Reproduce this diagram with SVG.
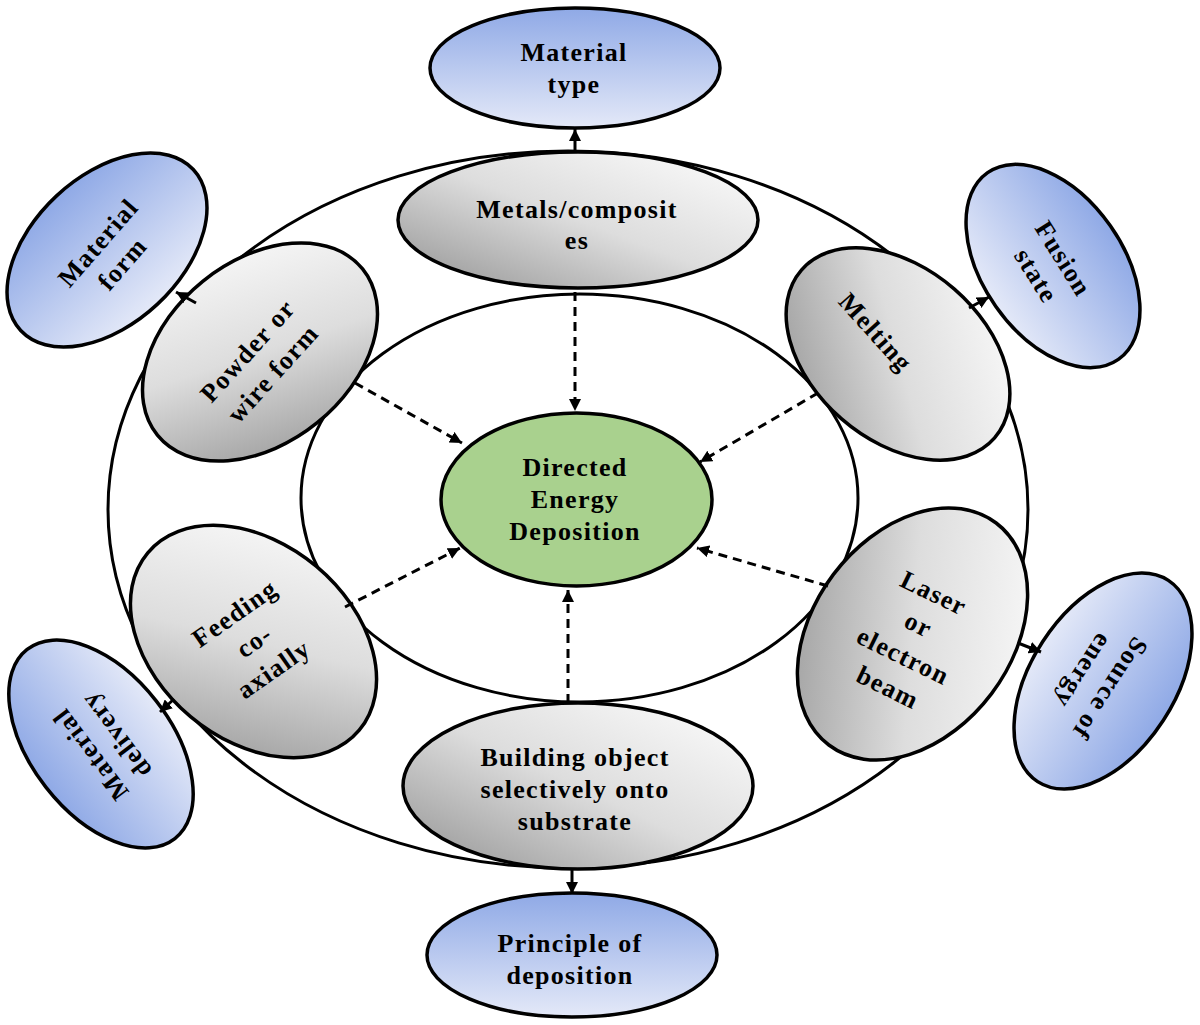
<svg xmlns="http://www.w3.org/2000/svg" width="1200" height="1025" viewBox="0 0 1200 1025">
  <style>
    .ring { fill: none; stroke: #000; stroke-width: 3; }
    .node { stroke: #000; stroke-width: 3.5; }
    .lbl { font-family: "Liberation Serif", "Times New Roman", serif; font-weight: bold; font-size: 26px; letter-spacing: 1.3px; fill: #000; text-anchor: middle; }
    .dash { fill: none; stroke: #000; stroke-width: 3; stroke-dasharray: 9 6; marker-end: url(#arrow); }
    .solid { fill: none; stroke: #000; stroke-width: 3; marker-end: url(#arrow); }
  </style>
  <defs>
    <marker id="arrow" viewBox="0 0 10 10" refX="10" refY="5" markerWidth="4" markerHeight="4" orient="auto" markerUnits="strokeWidth">
      <path d="M0,0 L10,5 L0,10 z" fill="#000"/>
    </marker>
    <linearGradient id="blue" x1="0.5" y1="0" x2="0.5" y2="1">
      <stop offset="0" stop-color="#8fa9e6"/>
      <stop offset="1" stop-color="#e4e9f8"/>
    </linearGradient>
    <linearGradient id="gray135" x1="0.85" y1="0.15" x2="0.15" y2="0.85">
      <stop offset="0" stop-color="#f4f4f4"/>
      <stop offset="0.5" stop-color="#dddddd"/>
      <stop offset="1" stop-color="#a8a8a8"/>
    </linearGradient>
    <linearGradient id="grayPowder" x1="0.74" y1="0.06" x2="0.26" y2="0.94">
      <stop offset="0" stop-color="#f4f4f4"/>
      <stop offset="0.5" stop-color="#dddddd"/>
      <stop offset="1" stop-color="#a8a8a8"/>
    </linearGradient>
    <linearGradient id="grayFeeding" x1="0.21" y1="0.09" x2="0.79" y2="0.91">
      <stop offset="0" stop-color="#f4f4f4"/>
      <stop offset="0.5" stop-color="#dddddd"/>
      <stop offset="1" stop-color="#a8a8a8"/>
    </linearGradient>
    <linearGradient id="grayLaser" x1="0.83" y1="0.87" x2="0.17" y2="0.13">
      <stop offset="0" stop-color="#f4f4f4"/>
      <stop offset="0.5" stop-color="#dddddd"/>
      <stop offset="1" stop-color="#a8a8a8"/>
    </linearGradient>
  </defs>

  <g id="rings">
    <ellipse class="ring" cx="568" cy="509.5" rx="460" ry="358.5"/>
    <ellipse class="ring" cx="579.5" cy="498" rx="278.5" ry="204"/>
  </g>

  <g id="n-center">
    <ellipse class="node" cx="576.5" cy="499.5" rx="135.5" ry="86.5" fill="#a9d18e"/>
    <text class="lbl"><tspan x="575" y="476">Directed</tspan><tspan x="575" y="508">Energy</tspan><tspan x="575" y="540">Deposition</tspan></text>
  </g>

  <g id="n-metals">
    <ellipse class="node" cx="578" cy="220" rx="180" ry="68" fill="url(#gray135)"/>
    <text class="lbl"><tspan x="577" y="218">Metals/composit</tspan><tspan x="577" y="249">es</tspan></text>
  </g>

  <g id="n-building">
    <ellipse class="node" cx="578" cy="786" rx="175" ry="83" fill="url(#gray135)"/>
    <text class="lbl"><tspan x="575" y="766">Building object</tspan><tspan x="575" y="798">selectively onto</tspan><tspan x="575" y="830">substrate</tspan></text>
  </g>

  <g id="n-powder">
    <ellipse class="node" cx="260" cy="352" rx="132" ry="91" transform="rotate(-39 260 352)" fill="url(#grayPowder)"/>
    <text class="lbl" transform="rotate(-48 260 362)"><tspan x="260" y="354">Powder or</tspan><tspan x="260" y="388">wire form</tspan></text>
  </g>

  <g id="n-melting">
    <ellipse class="node" cx="898" cy="354" rx="128" ry="86" transform="rotate(41 898 354)" fill="url(#gray135)"/>
    <text class="lbl" transform="rotate(48 876 332)"><tspan x="876" y="341">Melting</tspan></text>
  </g>

  <g id="n-feeding">
    <ellipse class="node" cx="253.5" cy="641.5" rx="138" ry="98" transform="rotate(40 253.5 641.5)" fill="url(#grayFeeding)"/>
    <text class="lbl" transform="rotate(-35 254 641)"><tspan x="254" y="616">Feeding</tspan><tspan x="254" y="650">co-</tspan><tspan x="254" y="684">axially</tspan></text>
  </g>

  <g id="n-laser">
    <ellipse class="node" cx="912.5" cy="634" rx="139" ry="99" transform="rotate(-53 912.5 634)" fill="url(#grayLaser)"/>
    <text class="lbl" transform="rotate(26 911 640)"><tspan x="911" y="596.5">Laser</tspan><tspan x="911" y="631.5">or</tspan><tspan x="911" y="666.5">electron</tspan><tspan x="911" y="701.5">beam</tspan></text>
  </g>

  <g id="n-material-type">
    <ellipse class="node" cx="575" cy="68" rx="145" ry="60" fill="url(#blue)"/>
    <text class="lbl"><tspan x="574" y="61">Material</tspan><tspan x="574" y="93">type</tspan></text>
  </g>

  <g id="n-principle">
    <ellipse class="node" cx="572" cy="955" rx="145" ry="62" fill="url(#blue)"/>
    <text class="lbl"><tspan x="570" y="952">Principle of</tspan><tspan x="570" y="984">deposition</tspan></text>
  </g>

  <g id="n-material-form">
    <ellipse class="node" cx="107" cy="250" rx="118" ry="74" transform="rotate(-43 107 250)" fill="url(#blue)"/>
    <text class="lbl" transform="rotate(-49 110 253)"><tspan x="110" y="246">Material</tspan><tspan x="110" y="278">form</tspan></text>
  </g>

  <g id="n-fusion">
    <ellipse class="node" cx="1053" cy="266" rx="114" ry="70" transform="rotate(55 1053 266)" fill="url(#blue)"/>
    <text class="lbl" transform="rotate(58 1050 267)"><tspan x="1050" y="260">Fusion</tspan><tspan x="1050" y="292">state</tspan></text>
  </g>

  <g id="n-material-delivery">
    <ellipse class="node" cx="101" cy="744" rx="120" ry="70" transform="rotate(232 101 744)" fill="url(#blue)"/>
    <text class="lbl" transform="rotate(-127 103 745)"><tspan x="103" y="738">Material</tspan><tspan x="103" y="770">delivery</tspan></text>
  </g>

  <g id="n-source">
    <ellipse class="node" cx="1103" cy="681" rx="120" ry="72" transform="rotate(123 1103 681)" fill="url(#blue)"/>
    <text class="lbl" transform="rotate(123 1097 680)"><tspan x="1097" y="673">Source of</tspan><tspan x="1097" y="705">energy</tspan></text>
  </g>

  <g id="connectors">
    <line class="dash" x1="575" y1="292" x2="575" y2="411"/>
    <line class="dash" x1="355" y1="383" x2="462" y2="443"/>
    <line class="dash" x1="818" y1="393" x2="700" y2="462"/>
    <line class="dash" x1="345" y1="607" x2="460" y2="548"/>
    <line class="dash" x1="828" y1="586" x2="697" y2="548"/>
    <line class="dash" x1="568" y1="703" x2="568" y2="590"/>
    <line class="solid" x1="575" y1="151" x2="575" y2="129"/>
    <line class="solid" x1="196" y1="303" x2="176" y2="292"/>
    <line class="solid" x1="969" y1="308" x2="989" y2="297"/>
    <line class="solid" x1="174" y1="699" x2="160" y2="712"/>
    <line class="solid" x1="1018" y1="643" x2="1041" y2="652"/>
    <line class="solid" x1="572" y1="870" x2="572" y2="894"/>
  </g>
</svg>
